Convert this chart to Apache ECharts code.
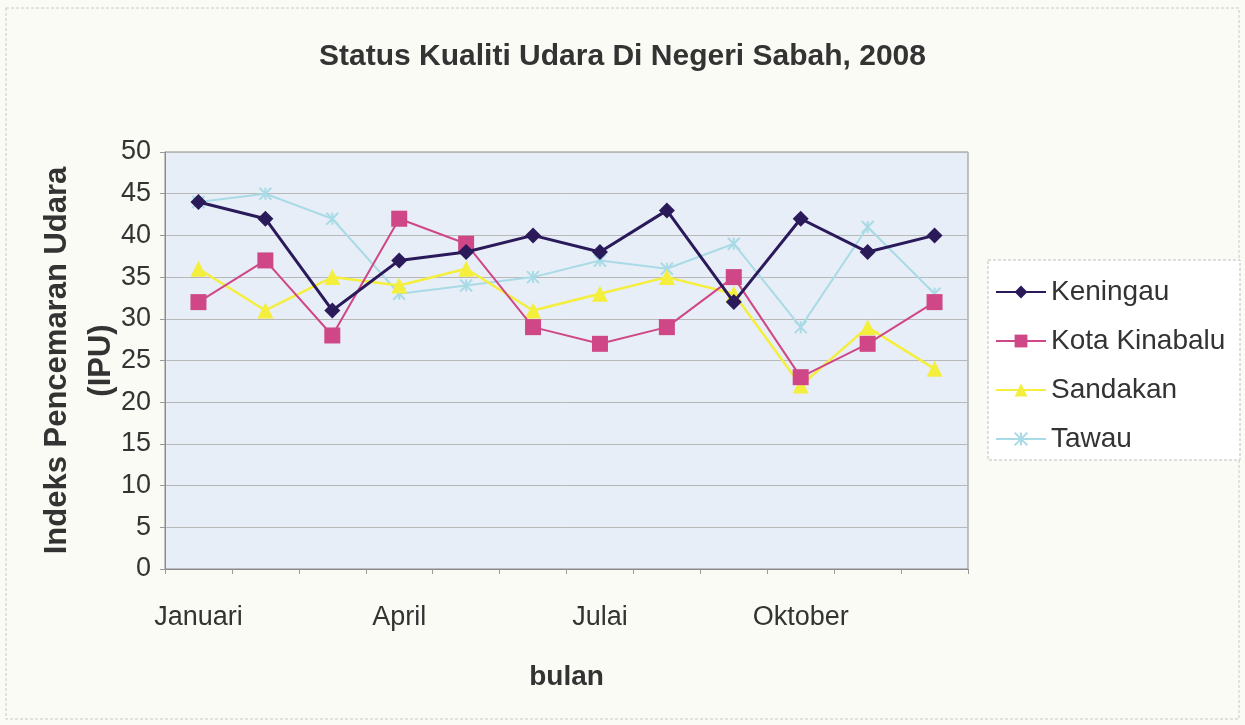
<!DOCTYPE html>
<html>
<head>
<meta charset="utf-8">
<script src="https://cdn.jsdelivr.net/npm/echarts@6/dist/echarts.min.js"></script>
<style>
html,body{margin:0;padding:0;background:#fbfbf5;}
#c{width:1245px;height:725px;}
</style>
</head>
<body>
<div id="c"></div>
<script>
const months = ['Januari','Februari','Mac','April','Mei','Jun','Julai','Ogos','September','Oktober','November','Disember'];
const keningau = [44, 42, 31, 37, 38, 40, 38, 43, 32, 42, 38, 40];
const kotaKinabalu = [32, 37, 28, 42, 39, 29, 27, 29, 35, 23, 27, 32];
const sandakan = [36, 31, 35, 34, 36, 31, 33, 35, 33, 22, 29, 24];
const tawau = [44, 45, 42, 33, 34, 35, 37, 36, 39, 29, 41, 33];
const seriesNames = ['Keningau','Kota Kinabalu','Sandakan','Tawau'];

const narrow = '"Liberation Sans Narrow", "Liberation Sans", Arial, sans-serif';
const chart = echarts.init(document.getElementById('c'));
const starPath = 'path://M0,0L10,10M10,0L0,10M5,0L5,10';

chart.setOption({
  backgroundColor: '#fbfbf5',
  animation: false,
  title: {
    text: 'Status Kualiti Udara Di Negeri Sabah, 2008',
    left: 'center',
    top: 37,
    textStyle: {fontFamily: narrow, fontSize: 30, fontWeight: 'bold', color: '#333'}
  },
  graphic: [
    {type: 'rect', shape: {x: 6, y: 8, width: 1233, height: 711}, style: {fill: 'none', stroke: '#c8c8c8', lineWidth: 1, lineDash: [3, 2]}, z: 0},
    {type: 'rect', shape: {x: 988, y: 260, width: 252, height: 200}, style: {fill: '#ffffff', stroke: '#bdbdbd', lineWidth: 1, lineDash: [3, 2]}, z: 1}
  ],
  legend: {
    orient: 'vertical',
    left: 990,
    top: 273,
    itemWidth: 50,
    itemHeight: 16,
    itemGap: 21,
    textStyle: {fontFamily: narrow, fontSize: 28, color: '#333'},
    data: seriesNames,
    z: 5
  },
  grid: {
    left: 165, right: 277, top: 152, bottom: 156,
    show: true,
    backgroundColor: '#e8eef7',
    borderColor: '#8a8a8a',
    borderWidth: 1,
    containLabel: false
  },
  xAxis: {
    type: 'category',
    data: months,
    boundaryGap: true,
    name: 'bulan',
    nameLocation: 'middle',
    nameGap: 94,
    nameMoveOverlap: false,
    nameTextStyle: {fontFamily: narrow, fontSize: 28, fontWeight: 'bold', color: '#333'},
    axisLine: {lineStyle: {color: '#8a8a8a'}},
    axisTick: {show: true, interval: 0, length: 5, lineStyle: {color: '#999'}},
    axisLabel: {interval: 2, margin: 35, fontFamily: narrow, fontSize: 27, color: '#333'}
  },
  yAxis: {
    type: 'value',
    min: 0, max: 50, interval: 5,
    name: 'Indeks Pencemaran Udara\n(IPU)',
    nameLocation: 'middle',
    nameRotate: 90,
    nameGap: 42,
    nameMoveOverlap: false,
    nameTextStyle: {fontFamily: '"Liberation Sans", Arial, sans-serif', fontSize: 31, fontWeight: 'bold', color: '#333', lineHeight: 44},
    axisLine: {show: true, lineStyle: {color: '#8a8a8a'}},
    axisTick: {show: true, length: 5, lineStyle: {color: '#999'}},
    axisLabel: {margin: 14, fontFamily: narrow, fontSize: 27, color: '#333'},
    splitLine: {lineStyle: {color: '#b8b8b8', width: 1}}
  },
  series: [
    {
      name: 'Keningau', type: 'line', data: keningau, z: 6,
      symbol: 'diamond', symbolSize: 16,
      lineStyle: {color: '#2a1a5a', width: 3},
      itemStyle: {color: '#2a1a5a'}
    },
    {
      name: 'Kota Kinabalu', type: 'line', data: kotaKinabalu, z: 5,
      symbol: 'rect', symbolSize: 16,
      lineStyle: {color: '#cf4787', width: 2},
      itemStyle: {color: '#cf4787'}
    },
    {
      name: 'Sandakan', type: 'line', data: sandakan, z: 4,
      symbol: 'triangle', symbolSize: 16,
      lineStyle: {color: '#f4ee3c', width: 2.5},
      itemStyle: {color: '#f4ee3c'}
    },
    {
      name: 'Tawau', type: 'line', data: tawau, z: 3,
      symbol: starPath, symbolSize: 12,
      lineStyle: {color: '#a9dbe6', width: 2},
      itemStyle: {color: 'none', borderColor: '#a9dbe6', borderWidth: 2}
    }
  ]
});
</script>
</body>
</html>
